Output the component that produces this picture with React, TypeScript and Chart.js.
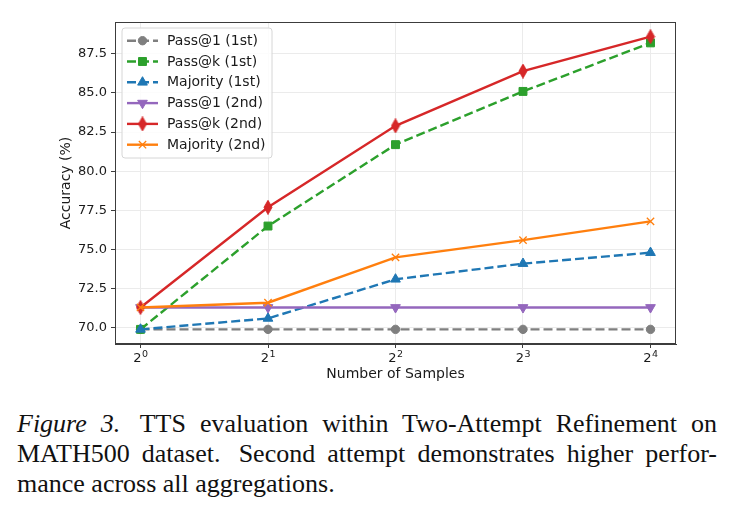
import React, { useEffect, useRef } from "react";
import { Chart, registerables } from "chart.js";

Chart.register(...registerables);

// ---- data ----
const samples = [1, 2, 4, 8, 16];
const xTickBase = "2";
const xTickExponents = ["0", "1", "2", "3", "4"];
const yTickValues = [70, 72.5, 75, 77.5, 80, 82.5, 85, 87.5];

const seriesNames = [
  "Pass@1 (1st)",
  "Pass@k (1st)",
  "Majority (1st)",
  "Pass@1 (2nd)",
  "Pass@k (2nd)",
  "Majority (2nd)",
];
const pass1First = [69.9, 69.9, 69.9, 69.9, 69.9];
const passkFirst = [69.9, 76.5, 81.7, 85.1, 88.2];
const majorityFirst = [69.9, 70.6, 73.1, 74.1, 74.8];
const pass1Second = [71.3, 71.3, 71.3, 71.3, 71.3];
const passkSecond = [71.3, 77.7, 82.9, 86.4, 88.6];
const majoritySecond = [71.3, 71.6, 74.5, 75.6, 76.8];

const seriesValues = [pass1First, passkFirst, majorityFirst, pass1Second, passkSecond, majoritySecond];
const seriesColors = ["#7f7f7f", "#2ca02c", "#1f77b4", "#9467bd", "#d62728", "#ff7f0e"];
const seriesDashed = [true, true, true, false, false, false];

function makeThinDiamond(color: string): HTMLCanvasElement {
  const c = document.createElement("canvas");
  c.width = 10;
  c.height = 15;
  const ctx = c.getContext("2d")!;
  ctx.fillStyle = color;
  ctx.strokeStyle = color;
  ctx.lineWidth = 1;
  ctx.beginPath();
  ctx.moveTo(5, 0.5);
  ctx.lineTo(9, 7.5);
  ctx.lineTo(5, 14.5);
  ctx.lineTo(1, 7.5);
  ctx.closePath();
  ctx.fill();
  ctx.stroke();
  return c;
}

const FONT = "'DejaVu Sans', sans-serif";
const TEXT = "#1a1a1a";
const SPINE = "#3c3c3c";

function drawMarker(ctx: CanvasRenderingContext2D, ds: any, x: number, y: number) {
  const style = ds.pointStyle;
  const radius = ds.pointRadius;
  const rot = ((ds.pointRotation || 0) * Math.PI) / 180;
  if (style instanceof HTMLCanvasElement) {
    ctx.drawImage(style, x - style.width / 2, y - style.height / 2);
    return;
  }
  ctx.beginPath();
  if (style === "circle") {
    ctx.arc(x, y, radius, 0, Math.PI * 2);
    ctx.fill();
    ctx.stroke();
  } else if (style === "rect") {
    const s = Math.SQRT1_2 * radius;
    ctx.rect(x - s, y - s, 2 * s, 2 * s);
    ctx.fill();
    ctx.stroke();
  } else if (style === "triangle") {
    let a = rot;
    ctx.moveTo(x + Math.sin(a) * radius, y - Math.cos(a) * radius);
    a += (2 * Math.PI) / 3;
    ctx.lineTo(x + Math.sin(a) * radius, y - Math.cos(a) * radius);
    a += (2 * Math.PI) / 3;
    ctx.lineTo(x + Math.sin(a) * radius, y - Math.cos(a) * radius);
    ctx.closePath();
    ctx.fill();
    ctx.stroke();
  } else if (style === "crossRot") {
    const o = Math.SQRT1_2 * radius;
    ctx.moveTo(x - o, y - o);
    ctx.lineTo(x + o, y + o);
    ctx.moveTo(x - o, y + o);
    ctx.lineTo(x + o, y - o);
    ctx.stroke();
  }
}

const frameAndLegend = {
  id: "frameAndLegend",
  afterDraw(chart: any) {
    const { ctx, chartArea } = chart;
    ctx.save();
    // full frame (spines)
    ctx.strokeStyle = SPINE;
    ctx.lineWidth = 1;
    ctx.setLineDash([]);
    ctx.strokeRect(
      Math.round(chartArea.left) + 0.5,
      Math.round(chartArea.top) + 0.5,
      Math.round(chartArea.right - chartArea.left) - 1,
      Math.round(chartArea.bottom - chartArea.top) - 1
    );

    // x tick labels with superscript exponents
    const xs = chart.scales.x;
    const baseY = chartArea.bottom + 18;
    samples.forEach((v, i) => {
      const px = xs.getPixelForValue(v);
      ctx.font = `13px ${FONT}`;
      const wBase = ctx.measureText(xTickBase).width;
      ctx.font = `9.5px ${FONT}`;
      const wExp = ctx.measureText(xTickExponents[i]).width;
      const start = px - (wBase + wExp) / 2;
      ctx.fillStyle = TEXT;
      ctx.textAlign = "left";
      ctx.textBaseline = "alphabetic";
      ctx.font = `13px ${FONT}`;
      ctx.fillText(xTickBase, start, baseY);
      ctx.font = `9.5px ${FONT}`;
      ctx.fillText(xTickExponents[i], start + wBase + 0.3, baseY - 5.5);
    });

    // legend
    const lx = chartArea.left + 7;
    const ly = chartArea.top + 6;
    const lw = 150;
    const lh = 130;
    const r = 3;
    ctx.beginPath();
    ctx.moveTo(lx + r, ly);
    ctx.lineTo(lx + lw - r, ly);
    ctx.quadraticCurveTo(lx + lw, ly, lx + lw, ly + r);
    ctx.lineTo(lx + lw, ly + lh - r);
    ctx.quadraticCurveTo(lx + lw, ly + lh, lx + lw - r, ly + lh);
    ctx.lineTo(lx + r, ly + lh);
    ctx.quadraticCurveTo(lx, ly + lh, lx, ly + lh - r);
    ctx.lineTo(lx, ly + r);
    ctx.quadraticCurveTo(lx, ly, lx + r, ly);
    ctx.closePath();
    ctx.fillStyle = "rgba(255,255,255,0.85)";
    ctx.fill();
    ctx.strokeStyle = "#d6d6d6";
    ctx.lineWidth = 1;
    ctx.stroke();

    chart.data.datasets.forEach((ds: any, i: number) => {
      const cy = ly + 12.7 + i * 20.8;
      ctx.save();
      ctx.strokeStyle = ds.borderColor;
      ctx.lineWidth = ds.borderWidth;
      ctx.setLineDash(ds.borderDash || []);
      ctx.beginPath();
      ctx.moveTo(lx + 5, cy);
      ctx.lineTo(lx + 36, cy);
      ctx.stroke();
      ctx.setLineDash([]);
      ctx.fillStyle = ds.pointBackgroundColor;
      ctx.strokeStyle = ds.pointBorderColor;
      ctx.lineWidth = ds.pointBorderWidth;
      drawMarker(ctx, ds, lx + 20.5, cy);
      ctx.restore();
      ctx.fillStyle = TEXT;
      ctx.font = `14px ${FONT}`;
      ctx.textBaseline = "middle";
      ctx.textAlign = "left";
      ctx.fillText(ds.label, lx + 45, cy + 0.5);
    });
    ctx.restore();
  },
};

export default function App() {
  const canvasRef = useRef<HTMLCanvasElement | null>(null);

  useEffect(() => {
    const canvas = canvasRef.current;
    if (!canvas) return;
    const diamond = makeThinDiamond(seriesColors[4]);
    const styles: any[] = ["circle", "rect", "triangle", "triangle", diamond, "crossRot"];
    const radii = [4.2, 5.6, 5.6, 5.6, 6, 5.2];
    const rotations = [0, 0, 0, 180, 0, 0];
    const pointBorderWidths = [1, 1, 1, 1, 1, 1.3];

    const datasets = seriesNames.map((name, i) => ({
      label: name,
      data: samples.map((s, j) => ({ x: s, y: seriesValues[i][j] })),
      borderColor: seriesColors[i],
      backgroundColor: seriesColors[i],
      pointBackgroundColor: seriesColors[i],
      pointBorderColor: seriesColors[i],
      pointBorderWidth: pointBorderWidths[i],
      pointStyle: styles[i],
      pointRadius: radii[i],
      pointRotation: rotations[i],
      borderWidth: 2.4,
      borderDash: seriesDashed[i] ? [9, 4] : [],
      tension: 0,
      fill: false,
      order: seriesNames.length - i,
    }));

    const chart = new Chart(canvas, {
      type: "line",
      data: { datasets },
      options: {
        responsive: false,
        animation: false,
        events: [],
        layout: { padding: { left: 0, right: 63, top: 22, bottom: 0 } },
        plugins: {
          legend: { display: false },
          tooltip: { enabled: false },
        },
        scales: {
          x: {
            type: "logarithmic",
            min: Math.pow(2, -0.2),
            max: Math.pow(2, 4.2),
            afterBuildTicks: (scale: any) => {
              scale.ticks = samples.map((v) => ({ value: v }));
            },
            afterFit: (scale: any) => {
              scale.height = 46;
            },
            ticks: {
              autoSkip: false,
              maxRotation: 0,
              padding: 1,
              color: "rgba(0,0,0,0)",
              font: { family: FONT, size: 13 },
              callback: () => "",
            },
            grid: { color: "#ebebeb", lineWidth: 1, tickColor: SPINE, tickLength: 4, drawTicks: true },
            border: { display: true, color: SPINE, width: 1 },
            title: {
              display: true,
              text: "Number of Samples",
              color: TEXT,
              font: { family: FONT, size: 14 },
              padding: { top: 0, bottom: 7 },
            },
          },
          y: {
            type: "linear",
            min: 68.965,
            max: 89.535,
            afterBuildTicks: (scale: any) => {
              scale.ticks = yTickValues.map((v) => ({ value: v }));
            },
            afterFit: (scale: any) => {
              scale.width = 115;
            },
            ticks: {
              padding: 4,
              color: TEXT,
              font: { family: FONT, size: 13 },
              callback: (value: any) => Number(value).toFixed(1),
            },
            grid: { color: "#ebebeb", lineWidth: 1, tickColor: SPINE, tickLength: 4, drawTicks: true },
            border: { display: true, color: SPINE, width: 1 },
            title: {
              display: true,
              text: "Accuracy (%)",
              color: TEXT,
              font: { family: FONT, size: 14 },
              padding: { top: 58, bottom: 0 },
            },
          },
        },
      },
      plugins: [frameAndLegend],
    });
    return () => chart.destroy();
  }, []);

  const lineStyle: React.CSSProperties = {
    display: "block",
    textAlign: "justify",
    textAlignLast: "justify",
    whiteSpace: "normal",
  };

  return (
    <div style={{ position: "absolute", left: 0, top: 0, width: 739, height: 516, background: "#fff", overflow: "hidden" }}>
      <canvas ref={canvasRef} width={739} height={390} style={{ display: "block", width: 739, height: 390 }} />
      <div
        style={{
          position: "absolute",
          left: 17,
          top: 409,
          width: 700,
          fontFamily: "'Liberation Serif', 'Times New Roman', serif",
          fontSize: 26,
          lineHeight: "30px",
          color: "#111",
        }}
      >
        <div style={lineStyle}>
          <i style={{ marginRight: 6 }}>Figure 3.</i> TTS evaluation within Two-Attempt Refinement on
        </div>
        <div style={lineStyle}>
          <span style={{ marginRight: 6 }}>MATH500 dataset.</span> Second attempt demonstrates higher perfor-
        </div>
        <div style={{ display: "block", textAlign: "left" }}>mance across all aggregations.</div>
      </div>
    </div>
  );
}
